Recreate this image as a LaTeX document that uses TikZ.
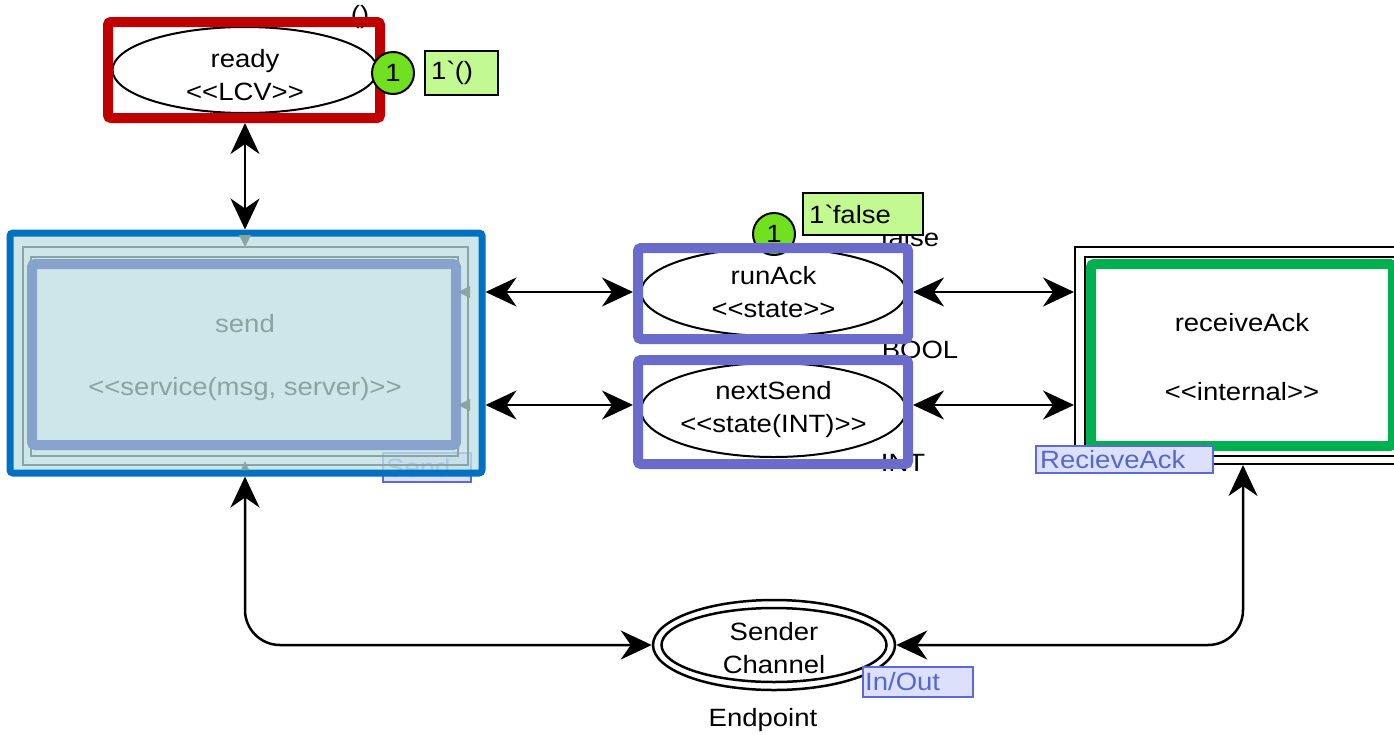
\documentclass[tikz,border=0pt]{standalone}
\usepackage{fontspec}
\setmainfont{Liberation Sans}[FakeStretch=1.1, Ligatures=TeXOff]
\usetikzlibrary{arrows.meta,shapes.geometric,calc}

\definecolor{lcvred}{HTML}{C00000}
\definecolor{servblue}{HTML}{0070C0}
\definecolor{statepurple}{HTML}{6B6BCC}
\definecolor{intgreen}{HTML}{00B050}
\definecolor{servfill}{HTML}{C0E0E5}
\definecolor{servinner}{HTML}{87A2CB}
\definecolor{ghost}{HTML}{8AA3A3}
\definecolor{tagfill}{HTML}{DDE0FA}
\definecolor{tagline}{HTML}{5A6AD8}
\definecolor{tagtext}{HTML}{5468D0}
\definecolor{tokgreen}{HTML}{70E020}
\definecolor{tokfill}{HTML}{C2F990}

\tikzset{
  framebox/.style={draw, inner sep=0pt, rounded corners=3pt},
  place/.style={ellipse, draw, line width=2pt, inner sep=0pt, align=center},
  arr/.style={line width=2.5pt,
    {Stealth[length=31pt,width=29pt,inset=10pt]}-{Stealth[length=31pt,width=29pt,inset=10pt]}},
  token/.style={circle, draw, line width=2pt, fill=tokgreen, minimum size=42pt, inner sep=0pt},
  tokbox/.style={draw, line width=2pt, fill=tokfill, inner sep=0pt},
  tagbox/.style={draw=tagline, fill=tagfill, line width=2pt, inner sep=0pt},
  tagtxt/.style={anchor=west, inner sep=0pt, text=tagtext},
  ghosttip/.style={fill=ghost, draw=none}
}

\begin{document}
\begin{tikzpicture}[x=1pt, y=-1pt, font=\fontsize{25}{33}\selectfont]
\useasboundingbox (0,0) rectangle (1394,734);
\clip (0,0) rectangle (1394,734);

% ---- place labels that sit behind other shapes
\node (lblUnit) at (360,17) {()};
\node (lblFalse) at (910,238) {false};
\node (lblBool) at (920,350) {BOOL};
\node (lblInt) at (903,463) {INT};

% ---- ready place
\node[place, minimum width=265pt, minimum height=86pt] (ready) at (245,70) {};
\node[align=center] (readyTxt) at (245,75) {ready\\<<LCV>>};
\node[framebox, draw=lcvred, line width=10pt, minimum width=272pt, minimum height=96pt] (readyF) at (244,70) {};
\node[token] (tokReady) at (393,73) {1};
\node[tokbox, minimum width=73pt, minimum height=44pt] (tbReady) at (461.5,73) {};
\node[anchor=west, inner sep=0pt] (tbReadyTxt) at ($(tbReady.west)+(7,0)$) {1\textasciigrave()};

% ---- send substitution transition
\node[tagbox, minimum width=88pt, minimum height=29pt] (tagSend) at (427,467.5) {};
\node[tagtxt] (tagSendTxt) at ($(tagSend.west)+(4,0)$) {Send};
\node[framebox, draw=servblue, fill=servfill, fill opacity=0.8, draw opacity=1,
      line width=7pt, minimum width=472pt, minimum height=240pt] (send) at (246,353) {};
\draw[ghost, line width=2pt] (23,247) rectangle (468,465);
\draw[ghost, line width=2pt] (31,257) rectangle (458,456);
\draw[servinner, line width=10pt, rounded corners=3pt] (32,264) rectangle (456,445);
\node[text=ghost] (sendName) at (245,324) {send};
\node[text=ghost] (sendKind) at (245,389) {<<service(msg, server)>>};
\fill[ghosttip] (239,235) -- (251,235) -- (245,247) -- cycle;
\fill[ghosttip] (470,286) -- (470,298) -- (458,292) -- cycle;
\fill[ghosttip] (470,399) -- (470,411) -- (458,405) -- cycle;
\fill[ghosttip] (241,470) -- (249,470) -- (245,461) -- cycle;

% ---- state places
\node[token] (tokRun) at (774,234) {1};
\node[tokbox, minimum width=120pt, minimum height=42pt] (tbRun) at (863,214) {};
\node[anchor=west, inner sep=0pt] (tbRunTxt) at ($(tbRun.west)+(7,0)$) {1\textasciigrave false};

\node[place, minimum width=265pt, minimum height=88pt] (runAck) at (773.5,292) {runAck\\<<state>>};
\node[framebox, draw=statepurple, line width=10pt, minimum width=270pt, minimum height=91pt] (runF) at (773,293.5) {};
\node[place, minimum width=265pt, minimum height=94pt] (nextSend) at (773.5,410) {nextSend\\<<state(INT)>>};
\node[framebox, draw=statepurple, line width=10pt, minimum width=270pt, minimum height=104pt] (nextF) at (773,412) {};

% ---- receiveAck transition
\node[draw, line width=2pt, inner sep=0pt, minimum width=345pt, minimum height=217pt] (recv) at (1247.5,355.5) {};
\draw[line width=2pt] (1085,257) rectangle (1420,456);
\draw[intgreen, line width=10pt, rounded corners=3pt] (1091,264) rectangle (1393,446);
\node (recvName) at (1242,323) {receiveAck};
\node (recvKind) at (1242,392) {<<internal>>};
\node[tagbox, minimum width=177pt, minimum height=27pt] (tagRecv) at (1124.5,459.5) {};
\node[tagtxt] (tagRecvTxt) at ($(tagRecv.west)+(5,0)$) {RecieveAck};

% ---- sender channel endpoint
\node[place, line width=2.5pt, minimum width=242pt, minimum height=90pt] (chan) at (774,645) {};
\node[place, line width=2.5pt, minimum width=225pt, minimum height=74pt] (chanIn) at (774,645) {};
\node[align=center] (chanTxt) at (774,648) {Sender\\Channel};
\node[tagbox, minimum width=110pt, minimum height=30pt] (tagChan) at (918,682) {};
\node[tagtxt] (tagChanTxt) at ($(tagChan.west)+(3,0)$) {In/Out};
\node (chanType) at (763,720) {Endpoint};

% ---- arcs
\coordinate (rowRun) at (0,292);
\coordinate (rowNext) at (0,405);
\coordinate (dropRecv) at (1243,0);

\draw[arr] (readyF.south -| ready) -- (send.north -| ready);
\draw[arr] (send.east |- rowRun) -- (runF.west |- rowRun);
\draw[arr] (send.east |- rowNext) -- (nextF.west |- rowNext);
\draw[arr] (runF.east |- rowRun) -- (recv.west |- rowRun);
\draw[arr] (nextF.east |- rowNext) -- (recv.west |- rowNext);
\draw[arr, rounded corners=35pt] (send.south -| ready) |- (chan.west);
\draw[arr, rounded corners=35pt] (recv.south -| dropRecv) |- (chan.east);
\end{tikzpicture}
\end{document}
